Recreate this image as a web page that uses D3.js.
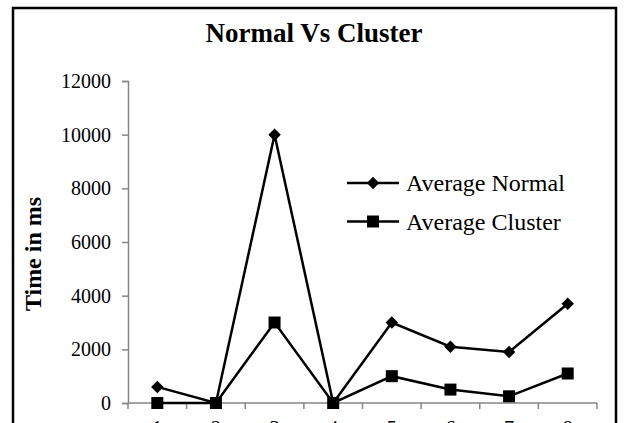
<!DOCTYPE html>
<html>
<head>
<meta charset="utf-8">
<script src="https://cdn.jsdelivr.net/npm/d3@7"></script>
<style>
  html, body { margin: 0; padding: 0; background: #fff; }
  svg { display: block; }
  text { font-family: "Liberation Serif", "Times New Roman", serif; fill: #000; }
</style>
</head>
<body>
<svg id="chart" width="625" height="423"></svg>
<script>
// Run numbers 1..8 with the average response time (ms) for each mode
const runs = [1, 2, 3, 4, 5, 6, 7, 8];
const averageNormal = [600, 0, 10000, 0, 3000, 2100, 1900, 3700];
const averageCluster = [0, 0, 3000, 0, 1000, 500, 250, 1100];
const yTicks = [0, 2000, 4000, 6000, 8000, 10000, 12000];

const series = [
  { name: "Average Normal", values: averageNormal, marker: "diamond" },
  { name: "Average Cluster", values: averageCluster, marker: "square" }
];

const W = 625, H = 423;
const plot = { left: 128, right: 597, top: 81, bottom: 403 };

const svg = d3.select("#chart");

// outer frame
svg.append("rect")
  .attr("x", 13).attr("y", 8)
  .attr("width", 603).attr("height", H + 20)
  .attr("fill", "none").attr("stroke", "#000").attr("stroke-width", 2.5);

const x = d3.scaleBand().domain(runs).range([plot.left, plot.right]);
const y = d3.scaleLinear().domain([0, 12000]).range([plot.bottom, plot.top]);

const axisColor = "#868686";

// y axis
const yAxis = svg.append("g")
  .attr("transform", `translate(${plot.left},0)`)
  .call(d3.axisLeft(y).tickValues(yTicks).tickSize(6).tickPadding(11).tickFormat(d3.format("d")));
yAxis.select(".domain").attr("stroke", axisColor).attr("stroke-width", 1.5);
yAxis.selectAll(".tick line").attr("stroke", axisColor).attr("stroke-width", 1.5);
yAxis.selectAll(".tick text").style("font-size", "20px")
  .style("font-family", '"Liberation Serif", serif').attr("fill", "#000");

// x axis: band edges carry tick marks, labels sit at band centres
const xAxisG = svg.append("g").attr("transform", `translate(0,${plot.bottom})`);
xAxisG.append("line")
  .attr("x1", plot.left).attr("x2", plot.right)
  .attr("stroke", axisColor).attr("stroke-width", 1.5);
const edges = runs.map(r => x(r)).concat([plot.right]);
xAxisG.selectAll("line.edge").data(edges).enter().append("line")
  .attr("class", "edge")
  .attr("x1", d => d).attr("x2", d => d)
  .attr("y1", 0).attr("y2", 6)
  .attr("stroke", axisColor).attr("stroke-width", 1.5);
xAxisG.selectAll("text").data(runs).enter().append("text")
  .attr("x", d => x(d) + x.bandwidth() / 2)
  .attr("y", 31.5)
  .attr("text-anchor", "middle")
  .style("font-size", "20px")
  .text(d => d);

// lines
const line = d3.line()
  .x((d, i) => x(runs[i]) + x.bandwidth() / 2)
  .y(d => y(d));

series.forEach(s => {
  svg.append("path")
    .datum(s.values)
    .attr("d", line)
    .attr("fill", "none")
    .attr("stroke", "#000")
    .attr("stroke-width", 2.5)
    .attr("stroke-linejoin", "miter");
});

function drawMarker(g, type, cx, cy) {
  if (type === "square") {
    g.append("rect")
      .attr("x", cx - 6).attr("y", cy - 6)
      .attr("width", 12).attr("height", 12)
      .attr("fill", "#000");
  } else {
    g.append("path")
      .attr("d", d3.symbol().type(d3.symbolSquare).size(78)())
      .attr("transform", `translate(${cx},${cy}) rotate(45)`)
      .attr("fill", "#000");
  }
}

const markers = svg.append("g");
series.forEach(s => {
  s.values.forEach((v, i) => {
    drawMarker(markers, s.marker, x(runs[i]) + x.bandwidth() / 2, y(v));
  });
});

// title
svg.append("text")
  .attr("x", 314).attr("y", 42)
  .attr("text-anchor", "middle")
  .style("font-size", "27px").style("font-weight", "bold")
  .text("Normal Vs Cluster");

// y axis title
svg.append("text")
  .attr("transform", `translate(41,254) rotate(-90)`)
  .attr("text-anchor", "middle")
  .style("font-size", "24px").style("font-weight", "bold")
  .text("Time in ms");

// legend
const legend = svg.append("g");
series.forEach((s, i) => {
  const ly = 183 + i * 38.5;
  legend.append("line")
    .attr("x1", 347).attr("x2", 399)
    .attr("y1", ly).attr("y2", ly)
    .attr("stroke", "#000").attr("stroke-width", 2.5);
  drawMarker(legend, s.marker, 373, ly);
  legend.append("text")
    .attr("x", 406).attr("y", ly + 8)
    .style("font-size", "24px")
    .text(s.name);
});
</script>
</body>
</html>
